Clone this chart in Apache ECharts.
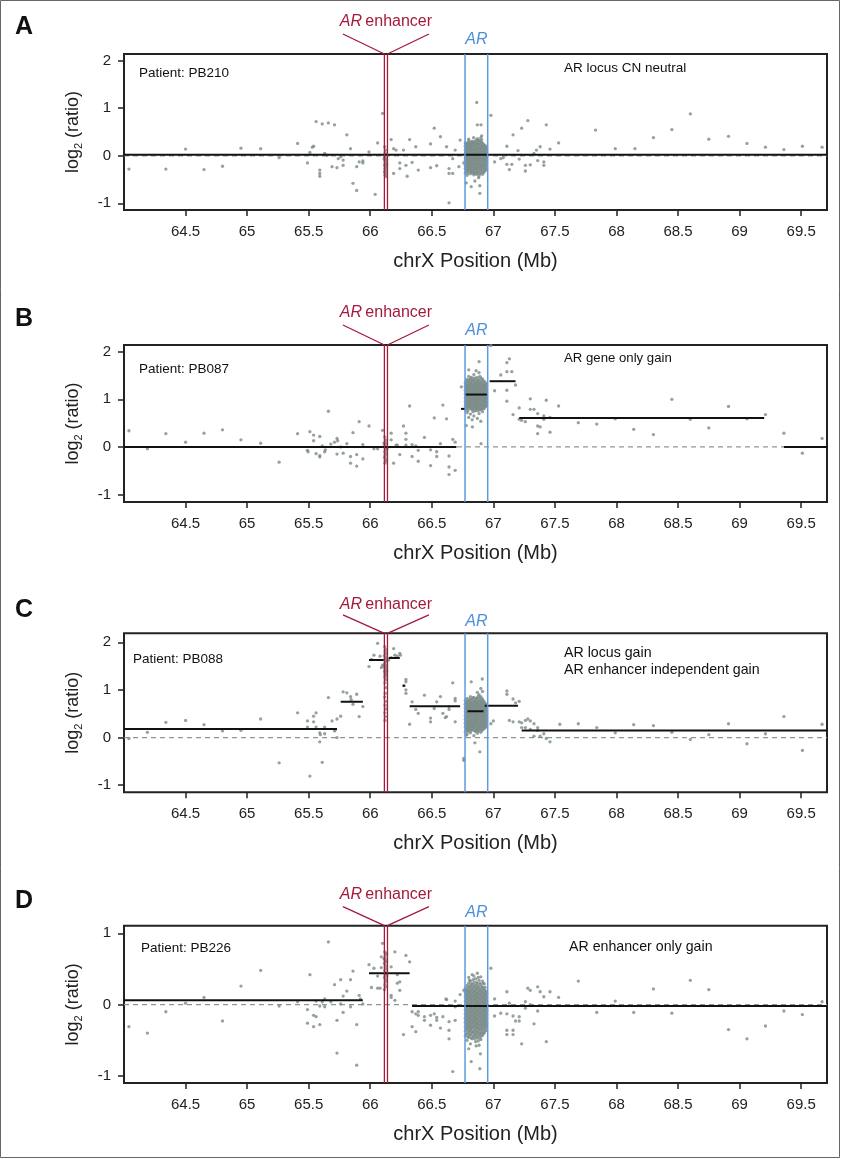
<!DOCTYPE html>
<html><head><meta charset="utf-8">
<script src="https://cdn.jsdelivr.net/npm/echarts@6/dist/echarts.min.js"></script>
<style>html,body{margin:0;padding:0;background:#fff}#main{width:841px;height:1159px}</style>
</head><body><div id="main"></div>
<script>
// ---------- DATA ----------
const panelLetters = ['A', 'B', 'C', 'D'];
const patientLabels = ['Patient: PB210', 'Patient: PB087', 'Patient: PB088', 'Patient: PB226'];
const noteLabels = [['AR locus CN neutral'], ['AR gene only gain'], ['AR locus gain', 'AR enhancer independent gain'], ['AR enhancer only gain']];
const xTicks = [64.5, 65, 65.5, 66, 66.5, 67, 67.5, 68, 68.5, 69, 69.5];
const yTicksWide = [-1, 0, 1, 2];
const yTicksNarrow = [-1, 0, 1];
const xRange = [64.0, 69.71];
const yRanges = [[-1.14, 2.14], [-1.155, 2.14], [-1.15, 2.19], [-1.1, 1.107]];
const enhancerLines = [66.115, 66.14];
const arGeneLines = [66.77, 66.954];
const neutralLevel = 0;

// segments: [start Mb, end Mb, log2 ratio]
const segmentsA = [[64.0, 69.71, 0.02]];
const segmentsB = [[64.0, 66.70, 0.0], [66.737, 66.77, 0.80], [66.77, 66.95, 1.10], [66.97, 67.18, 1.38], [67.21, 69.20, 0.61], [69.36, 69.71, 0.0]];
const segmentsC = [[64.0, 65.73, 0.18], [65.76, 65.94, 0.75], [65.99, 66.11, 1.63], [66.15, 66.24, 1.67], [66.265, 66.285, 1.09], [66.32, 66.73, 0.66], [66.79, 66.92, 0.55], [66.93, 67.20, 0.67], [67.23, 69.71, 0.15]];
const segmentsD = [[64.0, 65.94, 0.06], [65.99, 66.32, 0.44], [66.34, 69.71, -0.02]];

// scattered probes [Mb, log2 ratio]
const probesA = [[64.04,-0.28],[64.34,-0.28],[64.50,0.14],[64.65,-0.29],[64.80,-0.22],[64.95,0.16],[65.11,0.15],[65.26,-0.04],[65.41,0.26],[65.49,-0.15],[65.51,0.07],[65.53,0.18],[65.54,0.2],[65.56,0.72],[65.59,-0.30],[65.59,-0.37],[65.59,-0.43],[65.61,0.67],[65.66,0.69],[65.71,0.65],[65.63,0.05],[65.65,0.01],[65.69,-0.23],[65.73,-0.25],[65.74,-0.06],[65.76,-0.02],[65.78,-0.2],[65.78,-0.09],[65.81,0.44],[65.84,0.15],[65.86,-0.58],[65.89,-0.73],[65.89,-0.23],[65.91,-0.13],[65.94,-0.11],[65.94,-0.15],[65.99,0.08],[66.04,-0.81],[66.06,0.27],[66.10,0.89],[66.17,0.34],[66.19,0.15],[66.19,-0.37],[66.21,0.12],[66.24,-0.15],[66.24,-0.27],[66.27,0.12],[66.29,-0.2],[66.30,-0.43],[66.32,0.34],[66.34,-0.14],[66.37,0.19],[66.39,-0.30],[66.49,0.25],[66.52,0.58],[66.49,-0.25],[66.54,-0.21],[66.57,0.40],[66.62,0.19],[66.64,-0.99],[66.64,-0.37],[66.67,-0.37],[66.67,-0.06],[66.64,-0.27],[66.69,0.12],[66.73,0.33],[66.72,-0.23],[66.76,-0.15],[66.865,1.12],[66.98,0.85],[66.87,0.65],[66.90,0.65],[66.78,-0.57],[66.82,-0.65],[66.85,-0.53],[66.89,-0.79],[66.89,-0.63],[66.88,-0.46],[66.80,0.35],[66.84,0.38],[66.905,0.42],[67.01,-0.13],[67.06,-0.06],[67.08,-0.04],[67.11,0.20],[67.11,-0.18],[67.13,-0.29],[67.16,0.44],[67.15,-0.18],[67.20,0.11],[67.21,-0.07],[67.23,0.58],[67.26,-0.32],[67.26,-0.2],[67.28,0.74],[67.30,-0.19],[67.33,0.05],[67.35,0.12],[67.38,0.19],[67.36,-0.1],[67.41,-0.13],[67.41,-0.2],[67.43,0.65],[67.46,0.14],[67.53,0.27],[67.83,0.54],[67.99,0.15],[68.15,0.15],[68.30,0.38],[68.45,0.55],[68.60,0.88],[68.75,0.35],[68.91,0.41],[69.06,0.26],[69.21,0.18],[69.36,0.13],[69.51,0.20],[69.67,0.18]];
const probesB = [[64.04,0.34],[64.19,-0.04],[64.34,0.28],[64.50,0.10],[64.65,0.29],[64.80,0.36],[64.95,0.15],[65.11,0.08],[65.26,-0.32],[65.41,0.28],[65.49,-0.07],[65.495,-0.1],[65.51,0.32],[65.54,0.25],[65.54,0.13],[65.56,-0.14],[65.59,-0.18],[65.59,-0.21],[65.59,0.22],[65.61,0.02],[65.63,-0.1],[65.635,-0.06],[65.66,0.75],[65.68,0.06],[65.71,0.1],[65.73,0.18],[65.735,0.13],[65.73,-0.15],[65.76,0.0],[65.78,-0.13],[65.81,0.07],[65.84,-0.2],[65.84,-0.34],[65.86,0.3],[65.89,-0.16],[65.89,-0.4],[65.91,0.53],[65.94,0.05],[65.94,-0.25],[65.99,0.44],[66.03,-0.04],[66.06,-0.04],[66.10,0.35],[66.17,0.29],[66.17,0.15],[66.19,-0.34],[66.21,0.04],[66.22,0.04],[66.24,-0.16],[66.27,0.44],[66.29,0.29],[66.29,0.16],[66.29,0.04],[66.32,0.86],[66.34,0.05],[66.34,-0.2],[66.37,0.02],[66.39,-0.07],[66.39,-0.3],[66.44,0.2],[66.49,-0.06],[66.49,-0.39],[66.52,0.61],[66.54,-0.1],[66.54,-0.2],[66.57,0.07],[66.59,0.88],[66.62,0.59],[66.64,-0.19],[66.64,-0.42],[66.64,-0.58],[66.67,0.16],[66.69,-0.49],[66.69,0.1],[66.74,1.26],[66.90,0.07],[66.884,1.79],[66.86,1.6],[66.80,1.62],[66.78,0.45],[66.83,0.42],[66.98,2.13],[67.01,1.18],[67.06,1.51],[67.11,1.77],[67.13,1.85],[67.11,1.58],[67.15,1.58],[67.11,1.19],[67.11,0.96],[67.18,1.30],[67.16,0.68],[67.21,0.82],[67.21,0.58],[67.23,0.56],[67.26,0.53],[67.30,1.01],[67.30,0.79],[67.33,0.79],[67.36,0.70],[67.36,0.44],[67.38,0.42],[67.36,0.28],[67.41,0.65],[67.41,0.58],[67.43,0.98],[67.46,0.62],[67.46,0.31],[67.53,0.86],[67.69,0.51],[67.84,0.48],[67.99,0.59],[68.14,0.37],[68.30,0.26],[68.45,1.00],[68.60,0.58],[68.75,0.40],[68.91,0.85],[69.06,0.59],[69.21,0.68],[69.36,0.29],[69.51,-0.13],[69.67,0.18]];
const probesC = [[64.04,-0.02],[64.19,0.11],[64.34,0.32],[64.50,0.36],[64.65,0.27],[64.80,0.14],[64.95,0.15],[65.11,0.39],[65.26,-0.53],[65.41,0.52],[65.49,0.35],[65.49,0.22],[65.51,-0.81],[65.54,0.45],[65.54,0.33],[65.56,0.52],[65.56,0.22],[65.59,0.10],[65.59,-0.09],[65.595,0.06],[65.61,-0.52],[65.63,0.22],[65.63,0.08],[65.66,0.84],[65.69,0.35],[65.71,0.14],[65.715,0.16],[65.73,0.39],[65.73,0.0],[65.76,0.45],[65.78,0.96],[65.81,0.94],[65.84,0.86],[65.845,0.8],[65.86,0.70],[65.89,0.91],[65.91,0.44],[65.94,0.65],[65.99,1.49],[66.01,1.64],[66.06,1.98],[66.03,1.73],[66.08,1.71],[66.10,1.52],[66.09,1.47],[66.15,1.63],[66.17,1.68],[66.19,1.87],[66.20,1.73],[66.22,1.71],[66.24,1.77],[66.245,1.73],[66.27,1.09],[66.29,1.22],[66.29,1.17],[66.29,1.0],[66.29,0.93],[66.32,0.28],[66.34,0.75],[66.37,0.59],[66.39,0.51],[66.44,0.89],[66.49,0.41],[66.49,0.33],[66.52,0.61],[66.54,0.75],[66.57,0.86],[66.59,0.51],[66.61,0.42],[66.62,0.44],[66.64,0.65],[66.64,0.59],[66.67,1.15],[66.69,0.82],[66.69,0.77],[66.69,0.33],[66.76,-0.44],[66.76,-0.48],[66.78,0.05],[66.82,1.17],[66.91,1.23],[66.89,-0.30],[66.85,-0.11],[66.98,0.29],[67.00,0.35],[67.11,0.98],[67.11,0.91],[67.16,0.81],[67.18,0.73],[67.21,0.76],[67.13,0.36],[67.16,0.33],[67.21,0.33],[67.23,0.31],[67.23,0.21],[67.26,0.21],[67.26,0.36],[67.28,0.39],[67.30,0.35],[67.30,0.17],[67.33,0.29],[67.36,0.21],[67.36,0.15],[67.33,0.03],[67.38,0.03],[67.41,0.08],[67.43,-0.02],[67.46,-0.09],[67.54,0.28],[67.69,0.29],[67.84,0.21],[67.99,0.10],[68.14,0.27],[68.30,0.25],[68.45,0.11],[68.60,-0.04],[68.75,0.06],[68.91,0.29],[69.06,-0.13],[69.21,0.08],[69.36,0.44],[69.51,-0.27],[69.67,0.28]];
const probesD = [[64.04,-0.31],[64.19,-0.40],[64.34,-0.10],[64.50,0.02],[64.65,0.10],[64.80,-0.23],[64.95,0.26],[65.11,0.48],[65.26,-0.02],[65.41,0.04],[65.49,-0.07],[65.49,-0.26],[65.51,0.42],[65.54,-0.15],[65.54,-0.31],[65.56,0.05],[65.56,-0.17],[65.59,-0.02],[65.59,-0.28],[65.61,0.04],[65.63,0.08],[65.63,-0.03],[65.66,0.88],[65.68,0.04],[65.71,0.28],[65.73,-0.22],[65.73,-0.68],[65.76,0.35],[65.76,0.01],[65.78,0.12],[65.78,-0.11],[65.81,0.19],[65.84,0.35],[65.84,-0.03],[65.86,0.47],[65.89,-0.28],[65.89,-0.85],[65.91,0.13],[65.92,0.08],[65.94,0.01],[65.99,0.56],[66.01,0.24],[66.03,0.51],[66.06,0.23],[66.06,0.40],[66.09,0.67],[66.10,0.86],[66.09,0.52],[66.08,0.23],[66.17,0.53],[66.17,0.13],[66.17,0.1],[66.20,0.74],[66.20,0.06],[66.22,0.30],[66.22,0.42],[66.24,0.32],[66.24,0.2],[66.27,-0.42],[66.29,0.69],[66.32,0.60],[66.34,-0.10],[66.34,-0.31],[66.37,-0.13],[66.37,-0.38],[66.39,-0.10],[66.39,-0.15],[66.44,-0.22],[66.44,-0.17],[66.49,-0.15],[66.49,-0.29],[66.52,-0.13],[66.54,-0.18],[66.54,-0.22],[66.57,-0.33],[66.59,-0.17],[66.615,0.08],[66.62,0.07],[66.64,-0.24],[66.64,-0.48],[66.64,-0.36],[66.67,-0.94],[66.69,0.05],[66.69,-0.03],[66.69,-0.22],[66.73,0.14],[66.76,0.2],[66.895,-0.69],[66.82,-0.8],[66.89,-0.9],[66.80,-0.62],[66.86,-0.58],[66.98,0.51],[67.01,0.08],[67.01,-0.16],[67.06,-0.12],[67.11,-0.13],[67.11,0.18],[67.11,-0.36],[67.11,-0.42],[67.16,-0.36],[67.16,-0.42],[67.13,0.02],[67.16,-0.16],[67.18,-0.23],[67.21,-0.17],[67.21,-0.23],[67.23,-0.55],[67.26,0.04],[67.26,-0.05],[67.28,0.23],[67.30,0.2],[67.30,0.0],[67.33,-0.27],[67.36,0.25],[67.36,-0.09],[67.38,0.18],[67.41,0.11],[67.43,-0.52],[67.46,0.18],[67.53,0.10],[67.69,0.33],[67.84,-0.11],[67.99,0.05],[68.14,-0.11],[68.30,0.22],[68.45,-0.12],[68.60,0.34],[68.75,0.21],[68.91,-0.35],[69.06,-0.48],[69.21,-0.30],[69.36,-0.09],[69.51,-0.14],[69.67,0.04]];

// dense enhancer-region probes [Mb, log2 ratio]
const enhancerProbesA = [[66.118,0.19],[66.125,0.12],[66.121,0.06],[66.129,0.02],[66.116,-0.02],[66.124,-0.05],[66.131,-0.08],[66.119,-0.11],[66.127,-0.14],[66.122,-0.17],[66.117,-0.2],[66.13,-0.22],[66.124,-0.25],[66.12,-0.28],[66.128,-0.31],[66.116,-0.34],[66.125,-0.37],[66.121,-0.41],[66.129,-0.44],[66.112,-0.06],[66.133,-0.18]];
const enhancerProbesB = [[66.118,0.21],[66.125,0.15],[66.121,0.1],[66.129,0.06],[66.116,0.02],[66.124,-0.02],[66.131,-0.06],[66.119,-0.1],[66.127,-0.14],[66.122,-0.18],[66.117,-0.22],[66.13,-0.26],[66.124,-0.3],[66.12,-0.34],[66.112,0.08],[66.135,-0.03]];
const enhancerProbesC = [[66.118,1.91],[66.125,1.85],[66.121,1.8],[66.129,1.76],[66.116,1.72],[66.124,1.69],[66.131,1.66],[66.119,1.63],[66.127,1.6],[66.122,1.57],[66.117,1.54],[66.13,1.51],[66.124,1.48],[66.12,1.45],[66.128,1.42],[66.116,1.39],[66.125,1.36],[66.121,1.33],[66.129,1.3],[66.118,1.27],[66.126,1.22],[66.12,1.15],[66.128,1.05],[66.122,0.93],[66.118,0.85],[66.126,0.76],[66.121,0.68],[66.128,0.6],[66.119,0.52],[66.124,0.44],[66.12,0.36],[66.112,1.5],[66.135,1.62],[66.134,1.4]];
const enhancerProbesD = [[66.118,0.74],[66.125,0.7],[66.121,0.66],[66.129,0.62],[66.116,0.58],[66.124,0.55],[66.131,0.51],[66.119,0.48],[66.127,0.45],[66.122,0.42],[66.117,0.38],[66.13,0.35],[66.124,0.32],[66.12,0.28],[66.128,0.25],[66.116,0.21],[66.125,0.6],[66.112,0.64],[66.135,0.4],[66.133,0.72]];

// dense AR-gene probes, by column: [Mb, [log2 ratios]]
const arProbesA = [
  [66.772,[-0.36,-0.27,-0.2,-0.11,-0.04,0.05,0.12,0.2,0.27]],
  [66.779,[-0.32,-0.23,-0.15,-0.07,0.01,0.09,0.17,0.24]],
  [66.786,[-0.41,-0.31,-0.23,-0.15,-0.07,0.01,0.09,0.16,0.24]],
  [66.793,[-0.37,-0.27,-0.19,-0.11,-0.03,0.05,0.13,0.2,0.28]],
  [66.80,[-0.34,-0.26,-0.18,-0.1,-0.02,0.06,0.14,0.22,0.31]],
  [66.807,[-0.3,-0.22,-0.14,-0.06,0.02,0.1,0.18,0.26]],
  [66.814,[-0.38,-0.29,-0.21,-0.13,-0.05,0.03,0.11,0.18,0.25]],
  [66.821,[-0.34,-0.25,-0.17,-0.09,-0.01,0.07,0.14,0.21,0.29]],
  [66.828,[-0.33,-0.25,-0.17,-0.08,0.0,0.08,0.15,0.23,0.3]],
  [66.835,[-0.37,-0.29,-0.21,-0.12,-0.04,0.04,0.12,0.19,0.27]],
  [66.842,[-0.4,-0.3,-0.22,-0.14,-0.06,0.02,0.1,0.19,0.26]],
  [66.849,[-0.35,-0.26,-0.18,-0.1,-0.02,0.06,0.14,0.23,0.31]],
  [66.856,[-0.35,-0.27,-0.19,-0.11,-0.03,0.05,0.13,0.21,0.28]],
  [66.863,[-0.39,-0.31,-0.23,-0.15,-0.07,0.01,0.09,0.17,0.25,0.33]],
  [66.87,[-0.37,-0.28,-0.2,-0.12,-0.04,0.04,0.12,0.2,0.29,0.36]],
  [66.877,[-0.33,-0.24,-0.16,-0.08,0.0,0.08,0.16,0.24,0.32]],
  [66.884,[-0.42,-0.32,-0.24,-0.16,-0.08,0.0,0.08,0.16,0.24,0.33]],
  [66.891,[-0.38,-0.28,-0.2,-0.12,-0.04,0.04,0.12,0.2,0.28]],
  [66.898,[-0.36,-0.27,-0.19,-0.1,-0.02,0.06,0.14,0.22,0.3,0.38]],
  [66.905,[-0.32,-0.23,-0.15,-0.06,0.02,0.1,0.18,0.26,0.34]],
  [66.912,[-0.39,-0.3,-0.22,-0.13,-0.05,0.03,0.11,0.19,0.27]],
  [66.919,[-0.35,-0.26,-0.18,-0.09,-0.01,0.07,0.15,0.23]],
  [66.926,[-0.34,-0.25,-0.17,-0.09,-0.01,0.07,0.15,0.23]],
  [66.933,[-0.3,-0.21,-0.13,-0.05,0.03,0.11,0.19]],
  [66.94,[-0.3,-0.21,-0.12,-0.04,0.05,0.13,0.2]],
  [66.945,[-0.26,-0.17,-0.08,0.0,0.09,0.16]]
];
const arProbesB = [
  [66.772,[0.78,0.87,0.95,1.03,1.11,1.19,1.27,1.35]],
  [66.779,[0.82,0.91,0.99,1.07,1.15,1.23,1.31,1.39]],
  [66.786,[0.72,0.83,0.91,0.99,1.07,1.15,1.23,1.31,1.42]],
  [66.793,[0.76,0.87,0.95,1.03,1.11,1.19,1.27,1.36]],
  [66.80,[0.62,0.8,0.88,0.96,1.04,1.12,1.2,1.28,1.37,1.48]],
  [66.807,[0.84,0.92,1.0,1.08,1.16,1.24,1.32,1.42]],
  [66.814,[0.69,0.84,0.92,1.0,1.08,1.16,1.24,1.32,1.41]],
  [66.821,[0.8,0.88,0.96,1.04,1.12,1.2,1.28,1.37,1.46]],
  [66.828,[0.57,0.78,0.86,0.94,1.02,1.1,1.18,1.26,1.34,1.44]],
  [66.835,[0.74,0.82,0.9,0.98,1.06,1.14,1.22,1.3,1.39]],
  [66.842,[0.65,0.82,0.9,0.98,1.06,1.14,1.22,1.3,1.39,1.52]],
  [66.849,[0.78,0.86,0.94,1.02,1.1,1.18,1.26,1.34,1.45]],
  [66.856,[0.76,0.85,0.93,1.01,1.09,1.17,1.25,1.33,1.42]],
  [66.863,[0.81,0.89,0.97,1.05,1.13,1.21,1.29,1.37]],
  [66.87,[0.6,0.8,0.88,0.96,1.04,1.12,1.2,1.28,1.36,1.46]],
  [66.877,[0.76,0.84,0.92,1.0,1.08,1.16,1.24,1.32,1.41]],
  [66.884,[0.7,0.83,0.91,0.99,1.07,1.15,1.23,1.31,1.4,1.56]],
  [66.891,[0.79,0.87,0.95,1.03,1.11,1.19,1.27,1.35,1.48]],
  [66.898,[0.54,0.78,0.87,0.95,1.03,1.11,1.19,1.27,1.35,1.45]],
  [66.905,[0.82,0.91,0.99,1.07,1.15,1.23,1.31,1.4]],
  [66.912,[0.74,0.84,0.92,1.0,1.08,1.16,1.24,1.33,1.43]],
  [66.919,[0.8,0.88,0.96,1.04,1.12,1.2,1.28,1.37]],
  [66.926,[0.81,0.89,0.97,1.05,1.13,1.21,1.29,1.38]],
  [66.933,[0.85,0.93,1.01,1.09,1.17,1.25,1.33]],
  [66.94,[0.86,0.94,1.02,1.1,1.18,1.26,1.34]],
  [66.945,[0.9,0.98,1.06,1.14,1.22,1.3]]
];
const arProbesC = [
  [66.772,[0.12,0.22,0.3,0.38,0.46,0.54,0.62,0.7,0.78]],
  [66.779,[0.17,0.26,0.34,0.42,0.5,0.58,0.66,0.74]],
  [66.786,[0.07,0.17,0.25,0.33,0.41,0.49,0.57,0.65,0.73,0.82]],
  [66.793,[0.13,0.21,0.29,0.37,0.45,0.53,0.61,0.69,0.77]],
  [66.80,[0.14,0.21,0.29,0.37,0.45,0.53,0.61,0.69,0.77]],
  [66.807,[0.18,0.25,0.33,0.41,0.49,0.57,0.65,0.73,0.81]],
  [66.814,[0.1,0.19,0.27,0.35,0.43,0.51,0.59,0.67,0.75,0.86]],
  [66.821,[0.15,0.23,0.31,0.39,0.47,0.55,0.63,0.71,0.79]],
  [66.828,[0.16,0.23,0.31,0.39,0.47,0.55,0.63,0.71,0.8]],
  [66.835,[0.2,0.27,0.35,0.43,0.51,0.59,0.67,0.75,0.84]],
  [66.842,[0.04,0.18,0.26,0.34,0.42,0.5,0.58,0.66,0.74,0.84]],
  [66.849,[0.14,0.22,0.3,0.38,0.46,0.54,0.62,0.7,0.78]],
  [66.856,[0.13,0.22,0.3,0.38,0.46,0.54,0.62,0.7,0.78]],
  [66.863,[0.17,0.26,0.34,0.42,0.5,0.58,0.66,0.74,0.83]],
  [66.87,[0.09,0.17,0.25,0.33,0.41,0.49,0.57,0.65,0.73,0.82,0.95]],
  [66.877,[0.13,0.21,0.29,0.37,0.45,0.53,0.61,0.69,0.77,0.87]],
  [66.884,[0.15,0.23,0.31,0.39,0.47,0.55,0.63,0.71,0.79,0.9]],
  [66.891,[0.19,0.27,0.35,0.43,0.51,0.59,0.67,0.75,0.84]],
  [66.898,[0.11,0.2,0.28,0.36,0.44,0.52,0.6,0.68,0.76,0.86,1.03]],
  [66.905,[0.15,0.24,0.32,0.4,0.48,0.56,0.64,0.72,0.8]],
  [66.912,[0.16,0.24,0.32,0.4,0.48,0.56,0.64,0.72,0.81,0.97]],
  [66.919,[0.2,0.28,0.36,0.44,0.52,0.6,0.68,0.77]],
  [66.926,[0.19,0.27,0.35,0.43,0.51,0.59,0.67,0.75]],
  [66.933,[0.23,0.31,0.39,0.47,0.55,0.63,0.71]],
  [66.94,[0.22,0.3,0.38,0.46,0.54,0.62,0.7]],
  [66.945,[0.26,0.34,0.42,0.5,0.58,0.66]]
];
const arProbesD = [
  [66.772,[-0.44,-0.37,-0.31,-0.25,-0.19,-0.13,-0.07,-0.01,0.05,0.11,0.17,0.23]],
  [66.779,[-0.41,-0.34,-0.28,-0.22,-0.16,-0.1,-0.04,0.02,0.08,0.14,0.2]],
  [66.786,[-0.5,-0.41,-0.34,-0.28,-0.22,-0.16,-0.1,-0.04,0.02,0.08,0.14,0.2,0.27]],
  [66.793,[-0.45,-0.37,-0.31,-0.25,-0.19,-0.13,-0.07,-0.01,0.05,0.11,0.17,0.24]],
  [66.80,[-0.46,-0.39,-0.32,-0.26,-0.2,-0.14,-0.08,-0.02,0.04,0.1,0.16,0.22,0.3,0.38]],
  [66.807,[-0.42,-0.35,-0.29,-0.23,-0.17,-0.11,-0.05,0.01,0.07,0.13,0.19,0.26,0.34]],
  [66.814,[-0.55,-0.43,-0.36,-0.3,-0.24,-0.18,-0.12,-0.06,0.0,0.06,0.12,0.18,0.25,0.33]],
  [66.821,[-0.47,-0.39,-0.33,-0.27,-0.21,-0.15,-0.09,-0.03,0.03,0.09,0.15,0.22,0.29]],
  [66.828,[-0.48,-0.4,-0.33,-0.27,-0.21,-0.15,-0.09,-0.03,0.03,0.09,0.15,0.21,0.28,0.42]],
  [66.835,[-0.44,-0.37,-0.3,-0.24,-0.18,-0.12,-0.06,0.0,0.06,0.12,0.18,0.25,0.35]],
  [66.842,[-0.45,-0.38,-0.31,-0.25,-0.19,-0.13,-0.07,-0.01,0.05,0.11,0.17,0.23,0.31,0.4]],
  [66.849,[-0.48,-0.41,-0.34,-0.28,-0.22,-0.16,-0.1,-0.04,0.02,0.08,0.14,0.2,0.27]],
  [66.856,[-0.52,-0.42,-0.35,-0.29,-0.23,-0.17,-0.11,-0.05,0.01,0.07,0.13,0.19,0.26,0.36]],
  [66.863,[-0.45,-0.38,-0.32,-0.26,-0.2,-0.14,-0.08,-0.02,0.04,0.1,0.16,0.23,0.31]],
  [66.87,[-0.47,-0.39,-0.32,-0.26,-0.2,-0.14,-0.08,-0.02,0.04,0.1,0.16,0.22,0.29,0.44]],
  [66.877,[-0.51,-0.42,-0.35,-0.29,-0.23,-0.17,-0.11,-0.05,0.01,0.07,0.13,0.19,0.26,0.38]],
  [66.884,[-0.57,-0.44,-0.37,-0.31,-0.25,-0.19,-0.13,-0.07,-0.01,0.05,0.11,0.17,0.24,0.34]],
  [66.891,[-0.47,-0.4,-0.34,-0.28,-0.22,-0.16,-0.1,-0.04,0.02,0.08,0.14,0.21,0.3]],
  [66.898,[-0.49,-0.41,-0.34,-0.28,-0.22,-0.16,-0.1,-0.04,0.02,0.08,0.14,0.2,0.28,0.39]],
  [66.905,[-0.44,-0.38,-0.31,-0.25,-0.19,-0.13,-0.07,-0.01,0.05,0.11,0.17,0.24]],
  [66.912,[-0.43,-0.36,-0.3,-0.24,-0.18,-0.12,-0.06,0.0,0.06,0.12,0.18,0.25,0.33]],
  [66.919,[-0.4,-0.33,-0.27,-0.21,-0.15,-0.09,-0.03,0.03,0.09,0.15,0.22,0.3]],
  [66.926,[-0.4,-0.33,-0.27,-0.21,-0.15,-0.09,-0.03,0.03,0.09,0.15,0.21,0.29]],
  [66.933,[-0.37,-0.3,-0.24,-0.18,-0.12,-0.06,0.0,0.06,0.12,0.18,0.24]],
  [66.94,[-0.36,-0.29,-0.23,-0.17,-0.11,-0.05,0.01,0.07,0.13,0.19]],
  [66.945,[-0.32,-0.26,-0.2,-0.14,-0.08,-0.02,0.04,0.1,0.16]]
];

// ---------- LAYOUT / STYLE ----------
const FONT = '"Liberation Sans", Arial, Helvetica, sans-serif';
const INK = '#222';
const POINT = '#7b8b87';
const RED = '#a31a3c';
const BLUE = '#5b9be0';
const BLUE_TEXT = '#4b8fdc';
const layout = [
  {top: 54,    height: 156,   textDy: -32, arDy: -14.5, connDy: -20,  letterY: 27.5, patX: 139, patDy: 19,   noteX: 564, noteDy: [14.3],    noteSize: 13.5},
  {top: 345,   height: 157,   textDy: -32, arDy: -14.3, connDy: -20,  letterY: 319,  patX: 139, patDy: 24.3, noteX: 564, noteDy: [13.3],    noteSize: 13.2},
  {top: 633.3, height: 159,   textDy: -29, arDy: -11.6, connDy: -18.5,letterY: 610,  patX: 133, patDy: 26,   noteX: 564, noteDy: [20, 36.7], noteSize: 14.2},
  {top: 925.7, height: 157.3, textDy: -31, arDy: -13.4, connDy: -19,  letterY: 901,  patX: 141, patDy: 22.6, noteX: 569, noteDy: [21],      noteSize: 14.2}
];

function expandColumns(cols) {
  const out = [];
  cols.forEach(([x, ys]) => ys.forEach(y => out.push([x, y])));
  return out;
}
const panelPoints = [
  probesA.concat(enhancerProbesA, expandColumns(arProbesA)),
  probesB.concat(enhancerProbesB, expandColumns(arProbesB)),
  probesC.concat(enhancerProbesC, expandColumns(arProbesC)),
  probesD.concat(enhancerProbesD, expandColumns(arProbesD))
];
const panelSegments = [segmentsA, segmentsB, segmentsC, segmentsD];

const chart = echarts.init(document.getElementById('main'), null, {renderer: 'canvas'});

const grids = [], xAxes = [], yAxes = [], series = [];
layout.forEach((L, i) => {
  const [ymin, ymax] = yRanges[i];
  const yt = i === 3 ? yTicksNarrow : yTicksWide;
  grids.push({left: 124, width: 703, top: L.top, height: L.height, show: true, borderColor: INK, borderWidth: 2, backgroundColor: 'transparent', containLabel: false});
  xAxes.push({
    type: 'value', gridIndex: i, min: xRange[0], max: xRange[1], position: 'bottom',
    axisLine: {show: false, onZero: false}, splitLine: {show: false},
    axisTick: {show: true, customValues: xTicks, length: 6, lineStyle: {color: INK, width: 1.5}},
    axisLabel: {customValues: xTicks, margin: 14, fontSize: 15, color: INK, fontFamily: FONT},
    name: 'chrX Position (Mb)', nameLocation: 'middle', nameGap: 41,
    nameTextStyle: {fontSize: 20, color: INK, fontFamily: FONT}
  });
  yAxes.push({
    type: 'value', gridIndex: i, min: ymin, max: ymax, position: 'left',
    axisLine: {show: false, onZero: false}, splitLine: {show: false},
    axisTick: {show: true, customValues: yt, length: 6, lineStyle: {color: INK, width: 1.5}},
    axisLabel: {customValues: yt, margin: 13, fontSize: 15, color: INK, fontFamily: FONT},
    name: '{a|log}{b|2}{a| (ratio)}', nameLocation: 'middle', nameRotate: 90, nameGap: 40,
    nameTextStyle: {color: INK, fontFamily: FONT, fontSize: 18,
      rich: {a: {fontSize: 18, color: INK, fontFamily: FONT},
             b: {fontSize: 11, color: INK, fontFamily: FONT, padding: [10, 0, 0, 0]}}}
  });
  series.push({type: 'line', xAxisIndex: i, yAxisIndex: i, silent: true, symbol: 'none', z: 1,
    data: [[xRange[0], neutralLevel], [xRange[1], neutralLevel]],
    lineStyle: {color: '#8a9894', width: 1.3, type: [5, 4]}});
  series.push({type: 'scatter', xAxisIndex: i, yAxisIndex: i, silent: true, z: 2,
    data: panelPoints[i], symbolSize: 3.3, itemStyle: {color: POINT}});
  panelSegments[i].forEach(([x1, x2, y]) => series.push({type: 'line', xAxisIndex: i, yAxisIndex: i, silent: true, symbol: 'none', z: 3,
    data: [[x1, y], [x2, y]], lineStyle: {color: '#111', width: 2}}));
  enhancerLines.forEach(x => series.push({type: 'line', xAxisIndex: i, yAxisIndex: i, silent: true, symbol: 'none', z: 4,
    data: [[x, ymin], [x, ymax]], lineStyle: {color: RED, width: 1.3}}));
  arGeneLines.forEach(x => series.push({type: 'line', xAxisIndex: i, yAxisIndex: i, silent: true, symbol: 'none', z: 4,
    data: [[x, ymin], [x, ymax]], lineStyle: {color: BLUE, width: 1.5}}));
});

chart.setOption({animation: false, backgroundColor: '#fff', grid: grids, xAxis: xAxes, yAxis: yAxes, series: series});

// ---------- annotations ----------
const graphics = [{type: 'rect', shape: {x: 0.5, y: 0.5, width: 839, height: 1157}, style: {fill: 'none', stroke: '#666', lineWidth: 1}, silent: true}];
layout.forEach((L, i) => {
  const enhMid = (enhancerLines[0] + enhancerLines[1]) / 2;
  const arMid = (arGeneLines[0] + arGeneLines[1]) / 2;
  const pE = chart.convertToPixel({gridIndex: i}, [enhMid, 0]);
  const pA = chart.convertToPixel({gridIndex: i}, [arMid, 0]);
  const top = L.top;
  graphics.push({type: 'text', x: 15, y: L.letterY, style: {text: panelLetters[i], font: 'bold 25px ' + FONT, fill: '#111', textVerticalAlign: 'middle', textAlign: 'left'}, silent: true});
  graphics.push({type: 'text', x: pE[0], y: top + L.textDy, silent: true, style: {
    text: '{i|AR} {n|enhancer}', textAlign: 'center', textVerticalAlign: 'middle',
    rich: {i: {fontSize: 16, fontStyle: 'italic', fontFamily: FONT, fill: RED}, n: {fontSize: 16, fontFamily: FONT, fill: RED}}}});
  graphics.push({type: 'polyline', silent: true, shape: {points: [[pE[0] - 43, top + L.connDy], [pE[0] - 1.5, top]]}, style: {stroke: RED, lineWidth: 1.3, fill: null}});
  graphics.push({type: 'polyline', silent: true, shape: {points: [[pE[0] + 43, top + L.connDy], [pE[0] + 1.5, top]]}, style: {stroke: RED, lineWidth: 1.3, fill: null}});
  graphics.push({type: 'text', x: pA[0], y: top + L.arDy, silent: true, style: {text: 'AR', font: 'italic 16px ' + FONT, fill: BLUE_TEXT, textAlign: 'center', textVerticalAlign: 'middle'}});
  graphics.push({type: 'text', x: L.patX, y: top + L.patDy, silent: true, style: {text: patientLabels[i], font: '13.5px ' + FONT, fill: '#111', textAlign: 'left', textVerticalAlign: 'middle'}});
  noteLabels[i].forEach((t, k) => graphics.push({type: 'text', x: L.noteX, y: top + L.noteDy[k], silent: true, style: {text: t, font: L.noteSize + 'px ' + FONT, fill: '#111', textAlign: 'left', textVerticalAlign: 'middle'}}));
});
chart.setOption({graphic: graphics});
</script></body></html>
